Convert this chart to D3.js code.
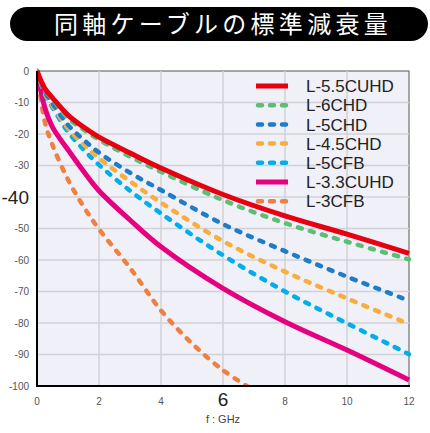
<!DOCTYPE html>
<html>
<head>
<meta charset="utf-8">
<script src="https://cdn.jsdelivr.net/npm/d3@7"></script>
<style>
  body { margin: 0; background: #fff; }
  svg { display: block; }
</style>
</head>
<body>
<svg width="430" height="433"></svg>
<script>
// cable names, in legend order
const cables = ["L-5.5CUHD", "L-6CHD", "L-5CHD", "L-4.5CHD", "L-5CFB", "L-3.3CUHD", "L-3CFB"];
const colors = ["#e60012", "#5cbd75", "#1f7cc8", "#f8ad3c", "#00aee9", "#e4007f", "#f08042"];
const dashed = [false, true, true, true, true, false, true];

// frequency (GHz) at which values were read
const freqs = [0, 0.25, 0.5, 1, 1.5, 2, 3, 4, 6, 8, 10, 12];

// attenuation in dB
const l55cuhd = [0, -5.5, -8.5, -14.0, -17.8, -21.0, -26.0, -30.8, -39.2, -46.0, -51.8, -57.9];
const l6chd   = [0, -5.8, -9.0, -15.0, -18.6, -21.8, -27.2, -32.0, -41.0, -48.3, -54.2, -59.8];
const l5chd   = [0, -6.5, -10.3, -17.1, -21.8, -25.9, -32.3, -37.8, -48.6, -57.2, -65.3, -72.9];
const l45chd  = [0, -7.0, -11.0, -18.2, -23.3, -27.7, -35.0, -41.8, -54.0, -63.7, -72.2, -80.3];
const l5cfb   = [0, -7.4, -11.6, -19.3, -24.9, -29.8, -38.0, -45.2, -58.5, -70.0, -80.1, -89.9];
const l33cuhd = [0, -11.5, -17.8, -25.0, -31.8, -38.0, -47.3, -55.8, -69.0, -79.6, -88.6, -98.1];
// L-3CFB runs off the bottom near 6.8 GHz
const l3cfbFreqs = [0, 0.25, 0.5, 1, 1.5, 2, 3, 4, 5, 6, 6.77];
const l3cfb       = [0, -16, -23.5, -34.5, -43, -50.2, -62.5, -76, -86.5, -95, -100];

const yTicks = [0, -10, -20, -30, -40, -50, -60, -70, -80, -90, -100];
const xTicks = [0, 2, 4, 6, 8, 10, 12];

const series = [
  freqs.map((f, i) => [f, l55cuhd[i]]),
  freqs.map((f, i) => [f, l6chd[i]]),
  freqs.map((f, i) => [f, l5chd[i]]),
  freqs.map((f, i) => [f, l45chd[i]]),
  freqs.map((f, i) => [f, l5cfb[i]]),
  freqs.map((f, i) => [f, l33cuhd[i]]),
  l3cfbFreqs.map((f, i) => [f, l3cfb[i]])
];

const svg = d3.select("svg");
const plotL = 37, plotR = 409, plotT = 71, plotB = 386;

const x = d3.scaleLinear().domain([0, 12]).range([plotL, plotR]);
const y = d3.scaleLinear().domain([0, -100]).range([plotT, plotB]);

// title pill
svg.append("rect")
    .attr("x", 10).attr("y", 7)
    .attr("width", 418).attr("height", 34)
    .attr("rx", 17)
    .style("fill", "#000");
svg.append("text")
    .attr("x", 223).attr("y", 33)
    .attr("text-anchor", "middle")
    .style("font-family", "'Noto Sans CJK JP', sans-serif")
    .style("font-size", "24px")
    .style("letter-spacing", "4.3px")
    .style("fill", "#fff")
    .text("同軸ケーブルの標準減衰量");

// plot background
svg.append("rect")
    .attr("x", plotL).attr("y", plotT)
    .attr("width", plotR - plotL).attr("height", plotB - plotT)
    .style("fill", "#eff0f8")
    .style("stroke", "#555")
    .style("stroke-width", 1);

// grid
const grid = svg.append("g").style("stroke", "#d2d2d6").style("stroke-width", 1.5);
grid.selectAll(".hg").data(yTicks.slice(1, -1)).enter().append("line")
    .attr("x1", plotL).attr("x2", plotR)
    .attr("y1", d => y(d)).attr("y2", d => y(d));
grid.selectAll(".vg").data(xTicks.slice(1, -1)).enter().append("line")
    .attr("y1", plotT).attr("y2", plotB)
    .attr("x1", d => x(d)).attr("x2", d => x(d));

// curves
const defs = svg.append("defs");
defs.append("clipPath").attr("id", "plotclip")
  .append("rect")
    .attr("x", plotL).attr("y", plotT - 3)
    .attr("width", plotR - plotL + 3).attr("height", plotB - plotT + 3);

const line = d3.line()
    .x(d => x(d[0]))
    .y(d => y(d[1]))
    .curve(d3.curveCatmullRom.alpha(0.5));

const curves = svg.append("g").attr("clip-path", "url(#plotclip)");
// draw back to front so the red line sits on top like the original
d3.range(series.length).reverse().forEach(i => {
  curves.append("path")
      .attr("d", line(series[i]))
      .style("fill", "none")
      .style("stroke", colors[i])
      .style("stroke-width", dashed[i] ? 4.5 : 5)
      .style("stroke-linecap", dashed[i] ? "round" : "butt")
      .style("stroke-dasharray", dashed[i] ? "4,8.5" : null);
});

// axes (left + bottom in black)
svg.append("line")
    .attr("x1", plotL).attr("x2", plotL).attr("y1", plotT).attr("y2", plotB + 1)
    .style("stroke", "#000").style("stroke-width", 2);
svg.append("line")
    .attr("x1", plotL - 1).attr("x2", plotR + 1).attr("y1", plotB).attr("y2", plotB)
    .style("stroke", "#000").style("stroke-width", 2);

// y tick labels
svg.append("g").selectAll("text")
    .data(yTicks).enter().append("text")
    .attr("x", 29)
    .attr("y", d => y(d))
    .attr("dy", "0.36em")
    .attr("text-anchor", "end")
    .style("font-family", "'Liberation Sans', Arial, sans-serif")
    .style("font-size", d => d === -40 ? "19px" : "10px")
    .style("fill", d => d === -40 ? "#222" : "#555")
    .text(d => d);

// x tick labels
svg.append("g").selectAll("text")
    .data(xTicks).enter().append("text")
    .attr("x", d => x(d))
    .attr("y", d => d === 6 ? 406 : 405)
    .attr("text-anchor", "middle")
    .style("font-family", "'Liberation Sans', Arial, sans-serif")
    .style("font-size", d => d === 6 ? "19px" : "10px")
    .style("fill", d => d === 6 ? "#222" : "#555")
    .text(d => d);

svg.append("text")
    .attr("x", x(6)).attr("y", 423)
    .attr("text-anchor", "middle")
    .style("font-family", "'Liberation Sans', Arial, sans-serif")
    .style("font-size", "11px")
    .style("fill", "#444")
    .text("f : GHz");

// legend
const legend = svg.append("g");
const row = legend.selectAll("g")
    .data(cables).enter().append("g")
    .attr("transform", (d, i) => `translate(0,${86 + i * 19.2})`);
row.append("line")
    .attr("x1", (d, i) => dashed[i] ? 258 : 256)
    .attr("x2", 288)
    .style("stroke", (d, i) => colors[i])
    .style("stroke-width", (d, i) => dashed[i] ? 4.5 : 5)
    .style("stroke-linecap", (d, i) => dashed[i] ? "round" : "butt")
    .style("stroke-dasharray", (d, i) => dashed[i] ? "4,8" : null);
row.append("text")
    .attr("x", 306)
    .attr("dy", "0.36em")
    .style("font-family", "'Liberation Sans', Arial, sans-serif")
    .style("font-size", "17px")
    .style("fill", "#222")
    .text(d => d);
</script>
</body>
</html>
